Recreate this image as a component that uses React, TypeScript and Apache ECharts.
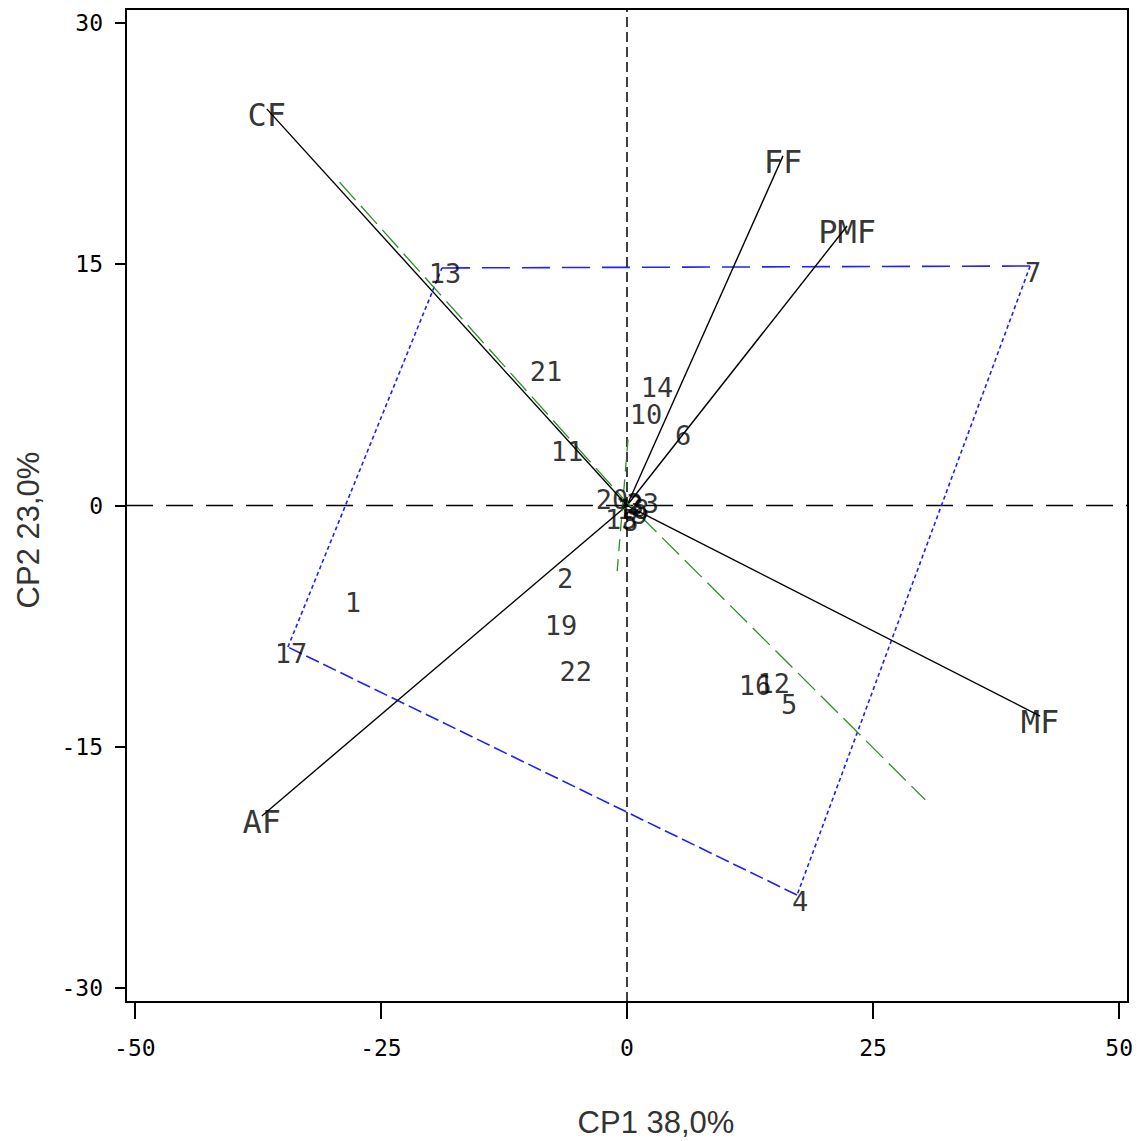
import React, { useEffect, useRef } from "react";
import * as echarts from "echarts";

// Axis ticks
const xTicks = [-50, -25, 0, 25, 50];
const yTicks = [-30, -15, 0, 15, 30];
const xMin = -50.9;
const xMax = 50.9;
const yMin = -30.87;
const yMax = 30.87;

// Observations (scores)
const obsLabels = ["1", "2", "3", "4", "5", "6", "7", "8", "9", "10", "11", "12", "13", "14", "15", "16", "17", "18", "19", "20", "21", "22", "23"];
const obsX = [-28.15, -6.6, 0.6, 17.28, 16.16, 5.39, 40.96, 0.0, 1.0, 1.63, -6.4, 14.6, -18.8, 2.74, -0.9, 12.7, -34.45, 0.3, -7.0, -1.83, -8.54, -5.5, 1.3];
const obsY = [-5.63, -4.14, 0.4, -24.22, -12.03, 4.7, 14.89, -0.6, -0.2, 6.0, 3.7, -10.67, 14.77, 7.74, -0.5, -10.8, -8.8, 0.1, -7.06, 0.72, 8.68, -9.92, 0.5];

// Variables (loadings)
const varLabels = ["CF", "FF", "PMF", "MF", "AF"];
const varX = [-36.6, 15.85, 22.36, 41.97, -37.1];
const varY = [24.66, 21.74, 17.38, -13.09, -19.3];

// Convex hull (by observation label)
const hullOrder = ["13", "7", "4", "17"];

// Green axes
const greenMajorX = [-29.2, -0.2, 30.3];
const greenMajorY = [20.1, 0.3, -18.3];
const greenMinorX = [0.1, -1.0];
const greenMinorY = [4.1, -4.1];

export default function App() {
  const ref = useRef<HTMLDivElement>(null);
  useEffect(() => {
    document.body.style.margin = "0";
    if (!ref.current) return;
    const chart = echarts.init(ref.current, null, { renderer: "svg" });

    const hullPts = hullOrder.map((l) => {
      const i = obsLabels.indexOf(l);
      return [obsX[i], obsY[i]];
    });
    const hullDash = [[28, 12], [4, 3], [14, 5], [4, 3]];
    const hullSeries = hullPts.map((p, i) => ({
      type: "line",
      data: [p, hullPts[(i + 1) % hullPts.length]],
      symbol: "none",
      silent: true,
      z: 3,
      lineStyle: { color: "#1f1fff", width: 1.6, type: hullDash[i] },
    }));

    const vecSeries = varLabels.map((_, i) => ({
      type: "line",
      data: [[0, 0], [varX[i], varY[i]]],
      symbol: "none",
      silent: true,
      z: 4,
      lineStyle: { color: "#000", width: 1.4, type: "solid" },
    }));

    const monoFont = "'DejaVu Sans Mono', monospace";

    chart.setOption({
      animation: false,
      backgroundColor: "#fff",
      grid: {
        left: 126,
        right: 17,
        top: 9,
        bottom: 139,
        show: true,
        borderColor: "#000",
        borderWidth: 2,
        backgroundColor: "transparent",
      },
      xAxis: {
        type: "value",
        min: xMin,
        max: xMax,
        splitLine: { show: false },
        axisLine: { show: true, onZero: false, lineStyle: { color: "#000", width: 2 } },
        axisTick: { show: true, customValues: xTicks, length: 17, lineStyle: { color: "#000", width: 2 } },
        axisLabel: {
          show: true,
          customValues: xTicks,
          margin: 34,
          color: "#000",
          fontFamily: monoFont,
          fontSize: 23,
        },
      },
      yAxis: {
        type: "value",
        min: yMin,
        max: yMax,
        splitLine: { show: false },
        axisLine: { show: true, onZero: false, lineStyle: { color: "#000", width: 2 } },
        axisTick: { show: true, customValues: yTicks, length: 11, lineStyle: { color: "#000", width: 2 } },
        axisLabel: {
          show: true,
          customValues: yTicks,
          margin: 23,
          color: "#000",
          fontFamily: monoFont,
          fontSize: 23,
        },
      },
      graphic: [
        {
          type: "text",
          x: 656,
          y: 1122,
          style: {
            text: "CP1 38,0%",
            fill: "#333",
            font: "31px 'Liberation Sans', Arial, sans-serif",
            textAlign: "center",
            textVerticalAlign: "middle",
          },
        },
        {
          type: "text",
          x: 28,
          y: 530,
          rotation: Math.PI / 2,
          style: {
            text: "CP2 23,0%",
            fill: "#333",
            font: "31px 'Liberation Sans', Arial, sans-serif",
            textAlign: "center",
            textVerticalAlign: "middle",
          },
        },
      ],
      series: [
        {
          type: "line",
          data: [[xMin, 0], [xMax, 0]],
          symbol: "none",
          silent: true,
          z: 1,
          lineStyle: { color: "#000", width: 1.5, type: [27, 13] },
        },
        {
          type: "line",
          data: [[0, yMin], [0, yMax]],
          symbol: "none",
          silent: true,
          z: 1,
          lineStyle: { color: "#000", width: 1.5, type: [10, 5] },
        },
        {
          type: "line",
          data: greenMajorX.map((x, i) => [x, greenMajorY[i]]),
          symbol: "none",
          silent: true,
          z: 5,
          lineStyle: { color: "#2d8f2d", width: 1.3, type: [24, 8] },
        },
        {
          type: "line",
          data: greenMinorX.map((x, i) => [x, greenMinorY[i]]),
          symbol: "none",
          silent: true,
          z: 5,
          lineStyle: { color: "#2d8f2d", width: 1.3, type: [12, 8] },
        },
        ...hullSeries,
        ...vecSeries,
        {
          type: "scatter",
          data: obsLabels.map((l, i) => ({ value: [obsX[i], obsY[i]], name: l })),
          symbolSize: 1,
          itemStyle: { color: "transparent" },
          silent: true,
          z: 6,
          label: {
            show: true,
            position: "inside",
            offset: [3, 6],
            formatter: (p: any) => p.name,
            color: "#000",
            textBorderWidth: 0,
            textBorderColor: "transparent",
            fontFamily: monoFont,
            fontSize: 27,
          },
        },
        {
          type: "scatter",
          data: varLabels.map((l, i) => ({ value: [varX[i], varY[i]], name: l })),
          symbolSize: 1,
          itemStyle: { color: "transparent" },
          silent: true,
          z: 6,
          label: {
            show: true,
            position: "inside",
            offset: [0, 6],
            formatter: (p: any) => p.name,
            color: "#000",
            textBorderWidth: 0,
            textBorderColor: "transparent",
            fontFamily: monoFont,
            fontSize: 32,
          },
        },
      ],
    });
    return () => chart.dispose();
  }, []);
  return <div ref={ref} style={{ width: 1145, height: 1141 }} />;
}
